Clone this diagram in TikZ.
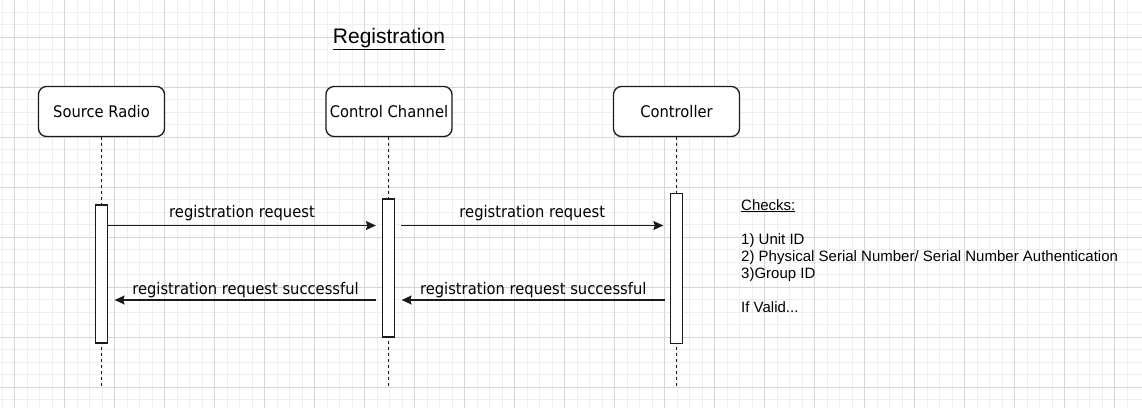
\documentclass[tikz,border=0pt]{standalone}
\usepackage{fontspec}
\setmainfont{Liberation Sans}
\newfontfamily\tah[FakeStretch=0.92]{DejaVu Sans}
\usetikzlibrary{arrows.meta}
\definecolor{gminor}{HTML}{EEEEEE}
\definecolor{gmajor}{HTML}{D6D6D6}
\definecolor{ln}{HTML}{1A1A1A}
\tikzset{
 actor/.style={draw=ln, line width=1.3pt, rounded corners=8pt, fill=white, minimum width=126pt, minimum height=50pt, font=\tah\fontsize{16}{19}\selectfont, inner sep=0pt},
 bar/.style={draw=ln, line width=1.3pt, fill=white, minimum width=12pt, inner sep=0pt},
 life/.style={draw=ln, line width=1.3pt, dash pattern=on 3pt off 3pt},
 msg/.style={draw=ln, line width=1.3pt, -{Stealth[length=10pt,width=9pt,inset=1.5pt]}},
 lbl/.style={font=\tah\fontsize{16}{19}\selectfont, inner sep=0pt, anchor=south, yshift=4pt},
}
\begin{document}
\begin{tikzpicture}[x=1pt,y=-1pt]
\useasboundingbox (0,0) rectangle (1142,408);
\fill[white] (0,0) rectangle (1142,408);
% grid
\foreach \i in {0,...,93} \draw[gminor, line width=0.8pt] ({-35.5+12.5*\i},0) -- ({-35.5+12.5*\i},408);
\foreach \i in {0,...,33} \draw[gminor, line width=0.8pt] (0,{-0.5+12.5*\i}) -- (1142,{-0.5+12.5*\i});
\foreach \i in {0,...,22} \draw[gmajor, line width=0.8pt] ({14.5+50*\i},0) -- ({14.5+50*\i},408);
\foreach \i in {0,...,7} \draw[gmajor, line width=0.8pt] (0,{37.5+50*\i}) -- (1142,{37.5+50*\i});

% title
\node[font=\fontsize{21}{24}\selectfont, inner sep=0pt] (title) at (389,39.5) {\underline{Registration}};

% actors
\node[actor] (sr) at (101.5,111.5) {Source Radio};
\node[actor] (cc) at (389,111.5) {Control Channel};
\node[actor] (ctl) at (676.5,111.5) {Controller};

% lifeline ends
\coordinate (e1) at (101.5,386);
\coordinate (e2) at (388.5,386);
\coordinate (e3) at (676.5,386);
\draw[life] (sr.south -| e1) -- (e1);
\draw[life] (cc.south -| e2) -- (e2);
\draw[life] (ctl.south -| e3) -- (e3);

% activation bars
\node[bar, minimum height=138pt] (b1) at (101.5,274) {};
\node[bar, minimum height=138pt] (b2) at (388.5,268) {};
\node[bar, minimum height=150pt] (b3) at (676.5,268.5) {};

% message rows
\coordinate (r1) at (0,225.5);
\coordinate (r2) at (0,300);

\draw[msg] (b1.east |- r1) -- ([xshift=-6pt]b2.west |- r1) node[lbl, midway] (l1) {registration request};
\draw[msg] ([xshift=6pt]b2.east |- r1) -- ([xshift=-6.5pt]b3.west |- r1) node[lbl, midway] (l2) {registration request};
\draw[msg] ([xshift=-5.5pt]b2.west |- r2) -- ([xshift=6.5pt]b1.east |- r2) node[lbl, midway, yshift=-2pt] (l3) {registration request successful};
\draw[msg] ([xshift=-5pt]b3.west |- r2) -- ([xshift=6.5pt]b2.east |- r2) node[lbl, midway, yshift=-2pt] (l4) {registration request successful};

% checks note
\node[anchor=north west, align=left, inner sep=0pt, font=\fontsize{15}{17}\selectfont] (chk) at (741,199)
 {\underline{Checks:}\\[17pt] 1) Unit ID\\ 2) Physical Serial Number/ Serial Number Authentication\\ 3)Group ID\\[17pt] If Valid...};
\end{tikzpicture}
\end{document}
